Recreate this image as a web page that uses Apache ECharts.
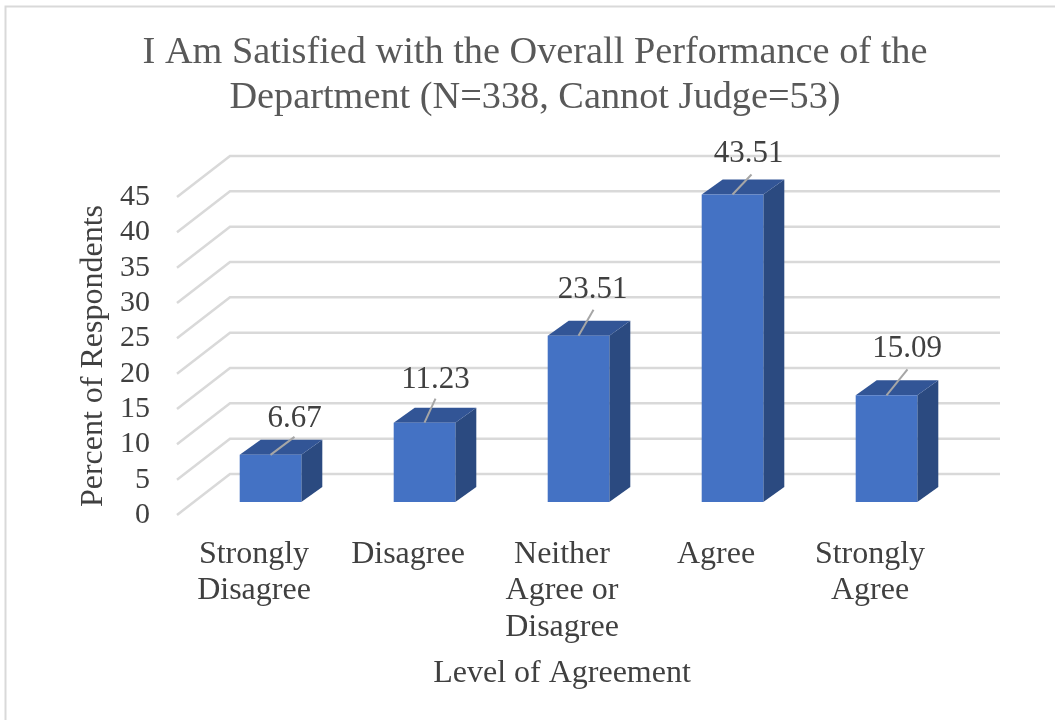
<!DOCTYPE html>
<html>
<head>
<meta charset="utf-8">
<style>
  html, body { margin: 0; padding: 0; background: #fff; }
  #chart { width: 1055px; height: 720px; }
</style>
<script src="https://cdn.jsdelivr.net/npm/echarts@6/dist/echarts.min.js"></script>
</head>
<body>
<div id="chart"></div>
<script>
const categories = ['Strongly\nDisagree', 'Disagree', 'Neither\nAgree or\nDisagree', 'Agree', 'Strongly\nAgree'];
const percents = [6.67, 11.23, 23.51, 43.51, 15.09];
const yTicks = [0, 5, 10, 15, 20, 25, 30, 35, 40, 45];

// pixel offsets of the fake 3D look
const wallDepth = [53, -41];
const floorInset = [16.5, -13];
const barDepth = [21, -15];
const leaderEnds = [[24, -18], [11, -24], [15, -26], [19, -20], [21, -26]];
const labelNudges = [[0, -18], [0, -19], [-1, -20], [-3, -21], [-0.5, -21]];

const serif = '"Liberation Serif", "Times New Roman", serif';
const chart = echarts.init(document.getElementById('chart'));

const renderWall = (params, api) => {
  const cs = params.coordSys;
  const y = api.coord([0, api.value(0)])[1];
  const x0 = cs.x;
  const x1 = cs.x + wallDepth[0];
  const y1 = y + wallDepth[1];
  return {
    type: 'polyline',
    shape: { points: [[x0, y], [x1, y1], [x1 + cs.width, y1]] },
    style: { fill: 'none', stroke: '#d9d9d9', lineWidth: 2.5 }
  };
};

const renderBar = (params, api) => {
  const idx = api.value(0);
  const val = api.value(1);
  const top = api.coord([idx, val]);
  const base = api.coord([idx, 0]);
  const w = api.size([1, 0])[0] * 0.4;
  const xl = top[0] + floorInset[0] - w / 2;
  const xr = xl + w;
  const yt = top[1] + floorInset[1];
  const yb = base[1] + floorInset[1];
  const dx = barDepth[0];
  const dy = barDepth[1];
  const cx = (xl + xr) / 2;
  const end = leaderEnds[params.dataIndex];
  const nudge = labelNudges[params.dataIndex];
  return {
    type: 'group',
    children: [
      { type: 'polygon', shape: { points: [[xr, yt], [xr + dx, yt + dy], [xr + dx, yb + dy], [xr, yb]] }, style: { fill: '#2b4a80' } },
      { type: 'polygon', shape: { points: [[xl, yt], [xl + dx, yt + dy], [xr + dx, yt + dy], [xr, yt]] }, style: { fill: '#325596' } },
      { type: 'rect', shape: { x: xl, y: yt, width: w, height: yb - yt }, style: { fill: '#4472c4' } },
      { type: 'line', shape: { x1: cx, y1: yt, x2: cx + end[0], y2: yt + end[1] }, style: { stroke: '#a6a6a6', lineWidth: 2 } },
      {
        type: 'text',
        style: {
          x: cx + end[0] + nudge[0],
          y: yt + end[1] + nudge[1],
          text: val.toFixed(2),
          fill: '#404040',
          font: '31px ' + serif,
          align: 'center',
          verticalAlign: 'middle'
        }
      }
    ]
  };
};

const option = {
  backgroundColor: '#fff',
  animation: false,
  title: {
    text: 'I Am Satisfied with the Overall Performance of the\nDepartment (N=338, Cannot Judge=53)',
    left: 530,
    top: 25,
    textAlign: 'center',
    textStyle: { fontFamily: serif, fontSize: 38.3, fontWeight: 'normal', color: '#595959', lineHeight: 45 }
  },
  graphic: [{
    type: 'rect',
    shape: { x: 5.5, y: 6.5, width: 1200, height: 800 },
    style: { fill: 'none', stroke: '#d9d9d9', lineWidth: 2 },
    silent: true
  }],
  grid: { left: 177, top: 197, width: 770, height: 318 },
  xAxis: {
    type: 'category',
    data: categories,
    axisLine: { show: false },
    axisTick: { show: false },
    name: 'Level of Agreement',
    nameLocation: 'middle',
    nameGap: 143,
    nameTextStyle: { fontFamily: serif, fontSize: 32, color: '#404040' },
    axisLabel: { interval: 0, margin: 21, fontFamily: serif, fontSize: 32, color: '#404040', lineHeight: 36.5 }
  },
  yAxis: {
    type: 'value',
    min: 0,
    max: 45,
    interval: 5,
    axisLine: { show: false },
    axisTick: { show: false },
    splitLine: { show: false },
    name: 'Percent of Respondents',
    nameLocation: 'middle',
    nameGap: 67,
    nameTextStyle: { fontFamily: serif, fontSize: 32, color: '#404040' },
    axisLabel: { margin: 27, fontFamily: serif, fontSize: 30, color: '#404040' }
  },
  series: [
    { type: 'custom', z: 1, clip: false, silent: true, data: yTicks.map(t => [t]), encode: { y: 0 }, renderItem: renderWall },
    { type: 'custom', z: 2, clip: false, silent: true, data: percents.map((p, i) => [i, p]), encode: { x: 0, y: 1 }, renderItem: renderBar }
  ]
};

chart.setOption(option);
window.addEventListener('resize', () => chart.resize());
</script>
</body>
</html>
